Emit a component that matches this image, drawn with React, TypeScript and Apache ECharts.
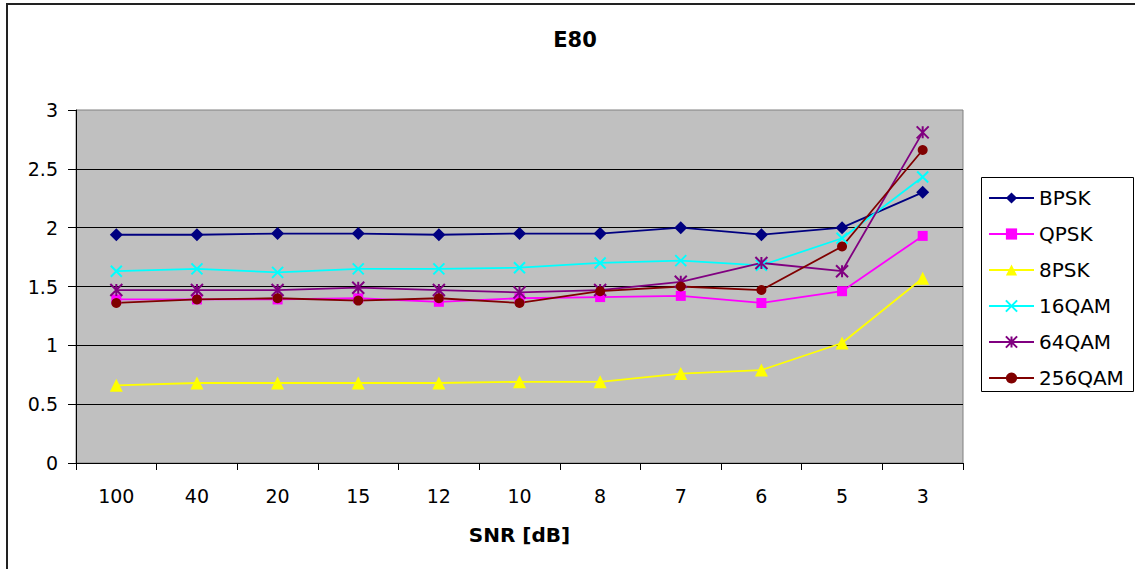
import React, { useEffect, useRef } from "react";
import * as echarts from "echarts";

const categories = ["100", "40", "20", "15", "12", "10", "8", "7", "6", "5", "3"];
const seriesNames = ["BPSK", "QPSK", "8PSK", "16QAM", "64QAM", "256QAM"];
const bpsk = [1.94, 1.94, 1.95, 1.95, 1.94, 1.95, 1.95, 2.0, 1.94, 2.0, 2.3];
const qpsk = [1.39, 1.39, 1.39, 1.4, 1.37, 1.4, 1.41, 1.42, 1.36, 1.46, 1.93];
const psk8 = [0.66, 0.68, 0.68, 0.68, 0.68, 0.69, 0.69, 0.76, 0.79, 1.02, 1.57];
const qam16 = [1.63, 1.65, 1.62, 1.65, 1.65, 1.66, 1.7, 1.72, 1.68, 1.91, 2.43];
const qam64 = [1.47, 1.47, 1.47, 1.49, 1.47, 1.45, 1.47, 1.54, 1.7, 1.63, 2.81];
const qam256 = [1.36, 1.39, 1.4, 1.38, 1.4, 1.36, 1.46, 1.5, 1.47, 1.84, 2.66];
const colors = ["#000080", "#FF00FF", "#FFFF00", "#00FFFF", "#800080", "#800000"];
const FONT = "DejaVu Sans";

const xPath = "path://M0,0L10,10M10,0L0,10";
const starPath = "path://M0,0L10,10M10,0L0,10M5,0L5,10";

export default function App() {
  const ref = useRef<HTMLDivElement>(null);
  useEffect(() => {
    if (!ref.current) return;
    const chart = echarts.init(ref.current, undefined, { renderer: "svg" });
    const values = [bpsk, qpsk, psk8, qam16, qam64, qam256];
    const symbols = ["diamond", "rect", "triangle", xPath, starPath, "circle"];
    const sizes = [13, 10, 13, 11, 12, 10];
    const series = values.map((d, i) => {
      const stroked = i === 3 || i === 4;
      return {
        name: seriesNames[i],
        type: "line",
        data: d,
        symbol: symbols[i],
        symbolSize: sizes[i],
        showSymbol: true,
        lineStyle: { color: colors[i], width: 1.8 },
        itemStyle: stroked
          ? { color: colors[i], borderColor: colors[i], borderWidth: 2 }
          : { color: colors[i], borderWidth: 0 },
        emphasis: { disabled: true },
      };
    });
    chart.setOption({
      animation: false,
      backgroundColor: "#ffffff",
      title: {
        text: "E80",
        left: 575,
        top: 29,
        textAlign: "center",
        padding: 0,
        textStyle: { fontFamily: FONT, fontSize: 21, fontWeight: "bold", color: "#000" },
      },
      graphic: [
        {
          type: "rect",
          z: 0,
          shape: { x: 7, y: 4, width: 1200, height: 600 },
          style: { fill: "none", stroke: "#222", lineWidth: 2 },
          silent: true,
        },
        {
          type: "rect",
          z: 0,
          shape: { x: 981.5, y: 177.5, width: 152, height: 214 },
          style: { fill: "#ffffff", stroke: "#000", lineWidth: 1 },
          silent: true,
        },
      ],
      legend: {
        orient: "vertical",
        left: 988,
        top: 188,
        padding: 0,
        itemGap: 16,
        itemWidth: 45,
        itemHeight: 14,
        z: 10,
        data: seriesNames,
        textStyle: { fontFamily: FONT, fontSize: 20, lineHeight: 20, color: "#000" },
      },
      grid: {
        left: 76,
        top: 110,
        right: 172,
        bottom: 106,
        show: true,
        backgroundColor: "#C0C0C0",
        borderColor: "#808080",
        borderWidth: 1,
      },
      xAxis: {
        type: "category",
        data: categories,
        boundaryGap: true,
        name: "SNR [dB]",
        nameLocation: "middle",
        nameGap: 62,
        nameTextStyle: { fontFamily: FONT, fontSize: 20, fontWeight: "bold", color: "#000" },
        axisLine: { lineStyle: { color: "#000", width: 1 } },
        axisTick: { show: true, length: 7, lineStyle: { color: "#000" } },
        axisLabel: { fontFamily: FONT, fontSize: 19, color: "#000", margin: 23 },
        splitLine: { show: false },
      },
      yAxis: {
        type: "value",
        min: 0,
        max: 3,
        interval: 0.5,
        axisLine: { show: true, lineStyle: { color: "#000", width: 1 } },
        axisTick: { show: true, length: 8, lineStyle: { color: "#000" } },
        axisLabel: { fontFamily: FONT, fontSize: 19, color: "#000", margin: 18 },
        splitLine: { show: true, showMaxLine: false, lineStyle: { color: "#000", width: 1 } },
      },
      series,
    });
    return () => chart.dispose();
  }, []);
  return (
    <div
      ref={ref}
      style={{ position: "fixed", left: 0, top: 0, width: 1135, height: 569 }}
    />
  );
}
